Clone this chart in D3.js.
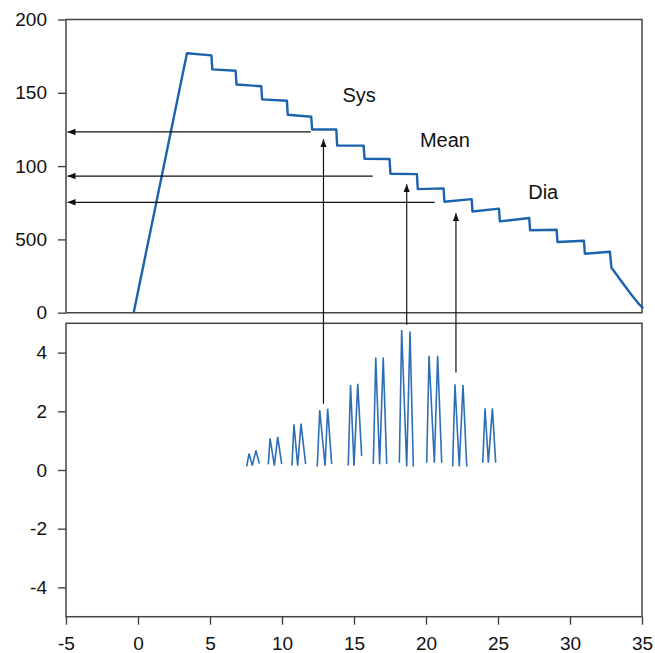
<!DOCTYPE html>
<html>
<head>
<meta charset="utf-8">
<script src="https://cdn.jsdelivr.net/npm/d3@7"></script>
<style>
  body { margin: 0; background: #fff; }
  svg { display: block; font-family: "Liberation Sans", Arial, sans-serif; }
</style>
</head>
<body>
<div id="container"></div>
<script>
// cuff pressure (top panel)
const cuffT = [-0.3, 3.40, 5.10, 5.16, 6.78, 6.84, 8.56, 8.62, 10.34, 10.40, 12.03, 12.09,
  13.77, 13.83, 15.67, 15.73, 17.47, 17.53, 19.37, 19.43, 21.22, 21.28, 23.17, 23.23,
  25.07, 25.13, 27.17, 27.23, 29.07, 29.13, 30.97, 31.03, 32.77, 32.88, 33.0, 33.59,
  34.28, 34.74, 35.09];
const cuffP = [0, 177, 175.5, 166, 165, 155.7, 154.5, 145.5, 144.6, 135, 133.7, 125,
  125, 114, 114, 105, 104.8, 94.8, 94.5, 84.3, 84.8, 75.7, 77.5, 69,
  71, 62.3, 64.6, 56.2, 56.6, 48.2, 49.1, 40.2, 41.6, 30.5, 29.1, 21.1,
  12.1, 6.4, 3];

// oscillation bursts (bottom panel): [start, peak, trough, peak, end]
const burstT = [
  [7.55, 7.71, 7.94, 8.19, 8.42],
  [9.05, 9.17, 9.47, 9.70, 9.98],
  [10.69, 10.83, 11.09, 11.32, 11.64],
  [12.45, 12.62, 12.99, 13.17, 13.45],
  [14.60, 14.76, 15.00, 15.26, 15.53],
  [16.34, 16.51, 16.78, 17.03, 17.27],
  [18.15, 18.31, 18.66, 18.89, 19.12],
  [20.05, 20.21, 20.58, 20.81, 21.09],
  [21.85, 22.01, 22.31, 22.57, 22.83],
  [23.94, 24.10, 24.33, 24.61, 24.84]
];
const burstV = [
  [0.12, 0.56, 0.15, 0.67, 0.22],
  [0.19, 1.08, 0.15, 1.13, 0.20],
  [0.15, 1.56, 0.15, 1.58, 0.20],
  [0.12, 2.04, 0.15, 2.09, 0.20],
  [0.15, 2.90, 0.15, 2.94, 0.48],
  [0.20, 3.83, 0.20, 3.83, 0.20],
  [0.25, 4.77, 0.12, 4.72, 0.12],
  [0.25, 3.89, 0.25, 3.89, 0.25],
  [0.12, 2.92, 0.12, 2.90, 0.12],
  [0.25, 2.10, 0.25, 2.10, 0.25]
];

const topTicks = [0, 50, 100, 150, 200];
const topTickLabels = ["0", "500", "100", "150", "200"];
const botTicks = [-4, -2, 0, 2, 4];
const xTicks = [-5, 0, 5, 10, 15, 20, 25, 30, 35];

// horizontal arrows: level, from t (right end) to left axis
const levelNames = ["Sys", "Mean", "Dia"];
const levelP = [123.3, 93.2, 75.3];
const levelEndT = [12.0, 16.3, 20.6];
// vertical arrows: t, start amplitude (bottom panel), tip pressure (top panel)
const arrowT = [12.88, 18.66, 22.08];
const arrowFromV = [2.26, 4.95, 3.32];
const arrowToP = [118.3, 87.6, 67.8];
// label anchors
const labelT = [14.2, 19.58, 27.1];
const labelP = [143.7, 112.9, 77.5];

const width = 655, height = 653;
const left = 66, right = 642;
const topPanel = { top: 19.5, bottom: 312.7 };
const botPanel = { top: 323.3, bottom: 616.7 };
const blue = "#1c63ad";
const axisColor = "#444";

const x = d3.scaleLinear().domain([-5, 35]).range([left, right]);
const yTop = d3.scaleLinear().domain([0, 200]).range([topPanel.bottom, topPanel.top]);
const yBot = d3.scaleLinear().domain([-5, 5]).range([botPanel.bottom, botPanel.top]);

const svg = d3.select("#container").append("svg")
  .attr("width", width)
  .attr("height", height);

const defs = svg.append("defs");
defs.append("marker")
  .attr("id", "head")
  .attr("viewBox", "0 0 10 10")
  .attr("refX", 10).attr("refY", 5)
  .attr("markerWidth", 8).attr("markerHeight", 8)
  .attr("markerUnits", "userSpaceOnUse")
  .attr("orient", "auto")
  .append("path")
  .attr("d", "M0,1L10,5L0,9Z")
  .attr("fill", "#111");

// plain hyphen for negatives, like the original
const fmt = d => String(d);

function styleAxis(g) {
  g.selectAll(".domain").remove();
  g.selectAll(".tick line").attr("stroke", axisColor).attr("stroke-width", 1.4);
  g.selectAll(".tick text").attr("fill", "#111").attr("font-size", 19);
}

// top panel axis
svg.append("g")
  .attr("transform", `translate(${left},0)`)
  .call(d3.axisLeft(yTop).tickValues(topTicks)
    .tickFormat((d, i) => topTickLabels[i]).tickSize(8).tickPadding(11))
  .call(styleAxis);

// top panel frame
svg.append("path")
  .attr("fill", "none")
  .attr("stroke", axisColor)
  .attr("stroke-width", 1.5)
  .attr("d", `M${left},${topPanel.bottom}V${topPanel.top}H${right}V${topPanel.bottom}H${left}`);

// bottom panel axes
svg.append("g")
  .attr("transform", `translate(${left},0)`)
  .call(d3.axisLeft(yBot).tickValues(botTicks).tickFormat(fmt).tickSize(8).tickPadding(11))
  .call(styleAxis);

svg.append("g")
  .attr("transform", `translate(0,${botPanel.bottom})`)
  .call(d3.axisBottom(x).tickValues(xTicks).tickFormat(fmt).tickSize(8).tickPadding(12))
  .call(styleAxis);

svg.append("rect")
  .attr("x", left).attr("y", botPanel.top)
  .attr("width", right - left).attr("height", botPanel.bottom - botPanel.top)
  .attr("fill", "none")
  .attr("stroke", axisColor)
  .attr("stroke-width", 1.5);

// cuff pressure
const cuff = cuffT.map((t, i) => ({ t: t, p: cuffP[i] }));
svg.append("path")
  .attr("fill", "none")
  .attr("stroke", blue)
  .attr("stroke-width", 2.4)
  .attr("stroke-linejoin", "round")
  .attr("d", d3.line().x(d => x(d.t)).y(d => yTop(d.p))(cuff));

// oscillations
const osc = svg.append("g")
  .attr("fill", "none")
  .attr("stroke", "#2e6fb4")
  .attr("stroke-width", 1.6);
burstT.forEach((ts, b) => {
  const pts = ts.map((t, i) => ({ t: t, v: burstV[b][i] }));
  osc.append("path")
    .attr("d", d3.line().x(d => x(d.t)).y(d => yBot(d.v))(pts));
});

// horizontal arrows
const arrows = svg.append("g")
  .attr("stroke", "#111")
  .attr("stroke-width", 1.2);
levelP.forEach((p, i) => {
  arrows.append("line")
    .attr("x1", x(levelEndT[i])).attr("y1", yTop(p))
    .attr("x2", x(-5) + 1.5).attr("y2", yTop(p))
    .attr("marker-end", "url(#head)");
});
// vertical arrows
arrowT.forEach((t, i) => {
  arrows.append("line")
    .attr("x1", x(t)).attr("y1", yBot(arrowFromV[i]))
    .attr("x2", x(t)).attr("y2", yTop(arrowToP[i]))
    .attr("marker-end", "url(#head)");
});

// labels
svg.append("g")
  .selectAll("text")
  .data(levelNames)
  .join("text")
  .attr("x", (d, i) => x(labelT[i]))
  .attr("y", (d, i) => yTop(labelP[i]))
  .attr("font-size", 20)
  .attr("fill", "#111")
  .text(d => d);
</script>
</body>
</html>
